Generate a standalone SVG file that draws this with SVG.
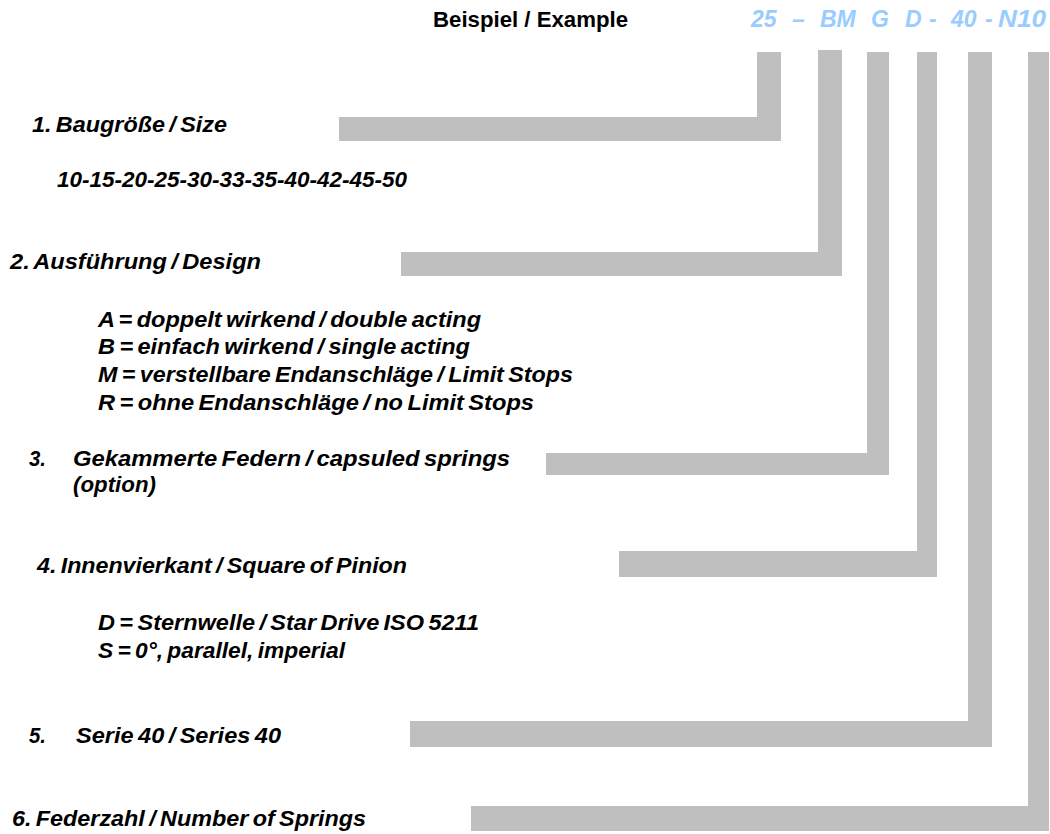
<svg xmlns="http://www.w3.org/2000/svg" width="1050" height="834" viewBox="0 0 1050 834">
<style>
  text { font-family: "Liberation Sans", Arial, sans-serif; font-size: 22px; font-weight: bold; fill: #000; }
  .it { font-style: italic; word-spacing: -2px; }
  .code { font-style: italic; fill: #99CCFF; font-size: 23px; }
  .bar { fill: #BFBFBF; stroke: none; }
</style>
<rect width="1050" height="834" fill="#FFFFFF"/>
<g id="connectors">
  <path class="bar" d="M757 52 H781 V141 H339 V117 H757 Z"/>
  <path class="bar" d="M818 50 H842 V276 H401 V252 H818 Z"/>
  <path class="bar" d="M867 52 H889 V475 H546 V453 H867 Z"/>
  <path class="bar" d="M917 52 H937 V577 H619 V551 H917 Z"/>
  <path class="bar" d="M968 52 H992 V747 H410 V721 H968 Z"/>
  <path class="bar" d="M1028 52 H1049 V831 H471 V806 H1028 Z"/>
</g>
<g id="header">
  <text x="433" y="27" textLength="195" lengthAdjust="spacingAndGlyphs">Beispiel / Example</text>
  <text class="code" y="27"><tspan x="751">25</tspan><tspan x="792">–</tspan><tspan x="820">BM</tspan><tspan x="871">G</tspan><tspan x="905">D</tspan><tspan x="929">-</tspan><tspan x="951">40</tspan><tspan x="985">-</tspan><tspan x="998" textLength="48" lengthAdjust="spacingAndGlyphs">N10</tspan></text>
</g>
<g id="node-size">
  <text class="it" x="32" y="132" textLength="195" lengthAdjust="spacingAndGlyphs">1. Baugröße / Size</text>
  <text class="it" x="57" y="187" textLength="350" lengthAdjust="spacingAndGlyphs">10-15-20-25-30-33-35-40-42-45-50</text>
</g>
<g id="node-design">
  <text class="it" x="10" y="269" textLength="251" lengthAdjust="spacingAndGlyphs">2. Ausführung / Design</text>
  <text class="it" x="98" y="327" textLength="383" lengthAdjust="spacingAndGlyphs">A = doppelt wirkend / double acting</text>
  <text class="it" x="98" y="354" textLength="372" lengthAdjust="spacingAndGlyphs">B = einfach wirkend / single acting</text>
  <text class="it" x="98" y="382" textLength="475" lengthAdjust="spacingAndGlyphs">M = verstellbare Endanschläge / Limit Stops</text>
  <text class="it" x="98" y="410" textLength="436" lengthAdjust="spacingAndGlyphs">R = ohne Endanschläge / no Limit Stops</text>
</g>
<g id="node-springs">
  <text class="it" x="29" y="466" textLength="17" lengthAdjust="spacingAndGlyphs">3.</text>
  <text class="it" x="73" y="466" textLength="437" lengthAdjust="spacingAndGlyphs">Gekammerte Federn / capsuled springs</text>
  <text class="it" x="73" y="492" textLength="83" lengthAdjust="spacingAndGlyphs">(option)</text>
</g>
<g id="node-square">
  <text class="it" x="37" y="573" textLength="370" lengthAdjust="spacingAndGlyphs">4. Innenvierkant / Square of Pinion</text>
  <text class="it" x="98" y="630" textLength="381" lengthAdjust="spacingAndGlyphs">D = Sternwelle / Star Drive ISO 5211</text>
  <text class="it" x="98" y="658" textLength="247" lengthAdjust="spacingAndGlyphs">S = 0°, parallel, imperial</text>
</g>
<g id="node-series">
  <text class="it" x="29" y="743" textLength="17" lengthAdjust="spacingAndGlyphs">5.</text>
  <text class="it" x="76" y="743" textLength="205" lengthAdjust="spacingAndGlyphs">Serie 40 / Series 40</text>
</g>
<g id="node-number">
  <text class="it" x="12" y="826" textLength="354" lengthAdjust="spacingAndGlyphs">6. Federzahl / Number of Springs</text>
</g>
</svg>
